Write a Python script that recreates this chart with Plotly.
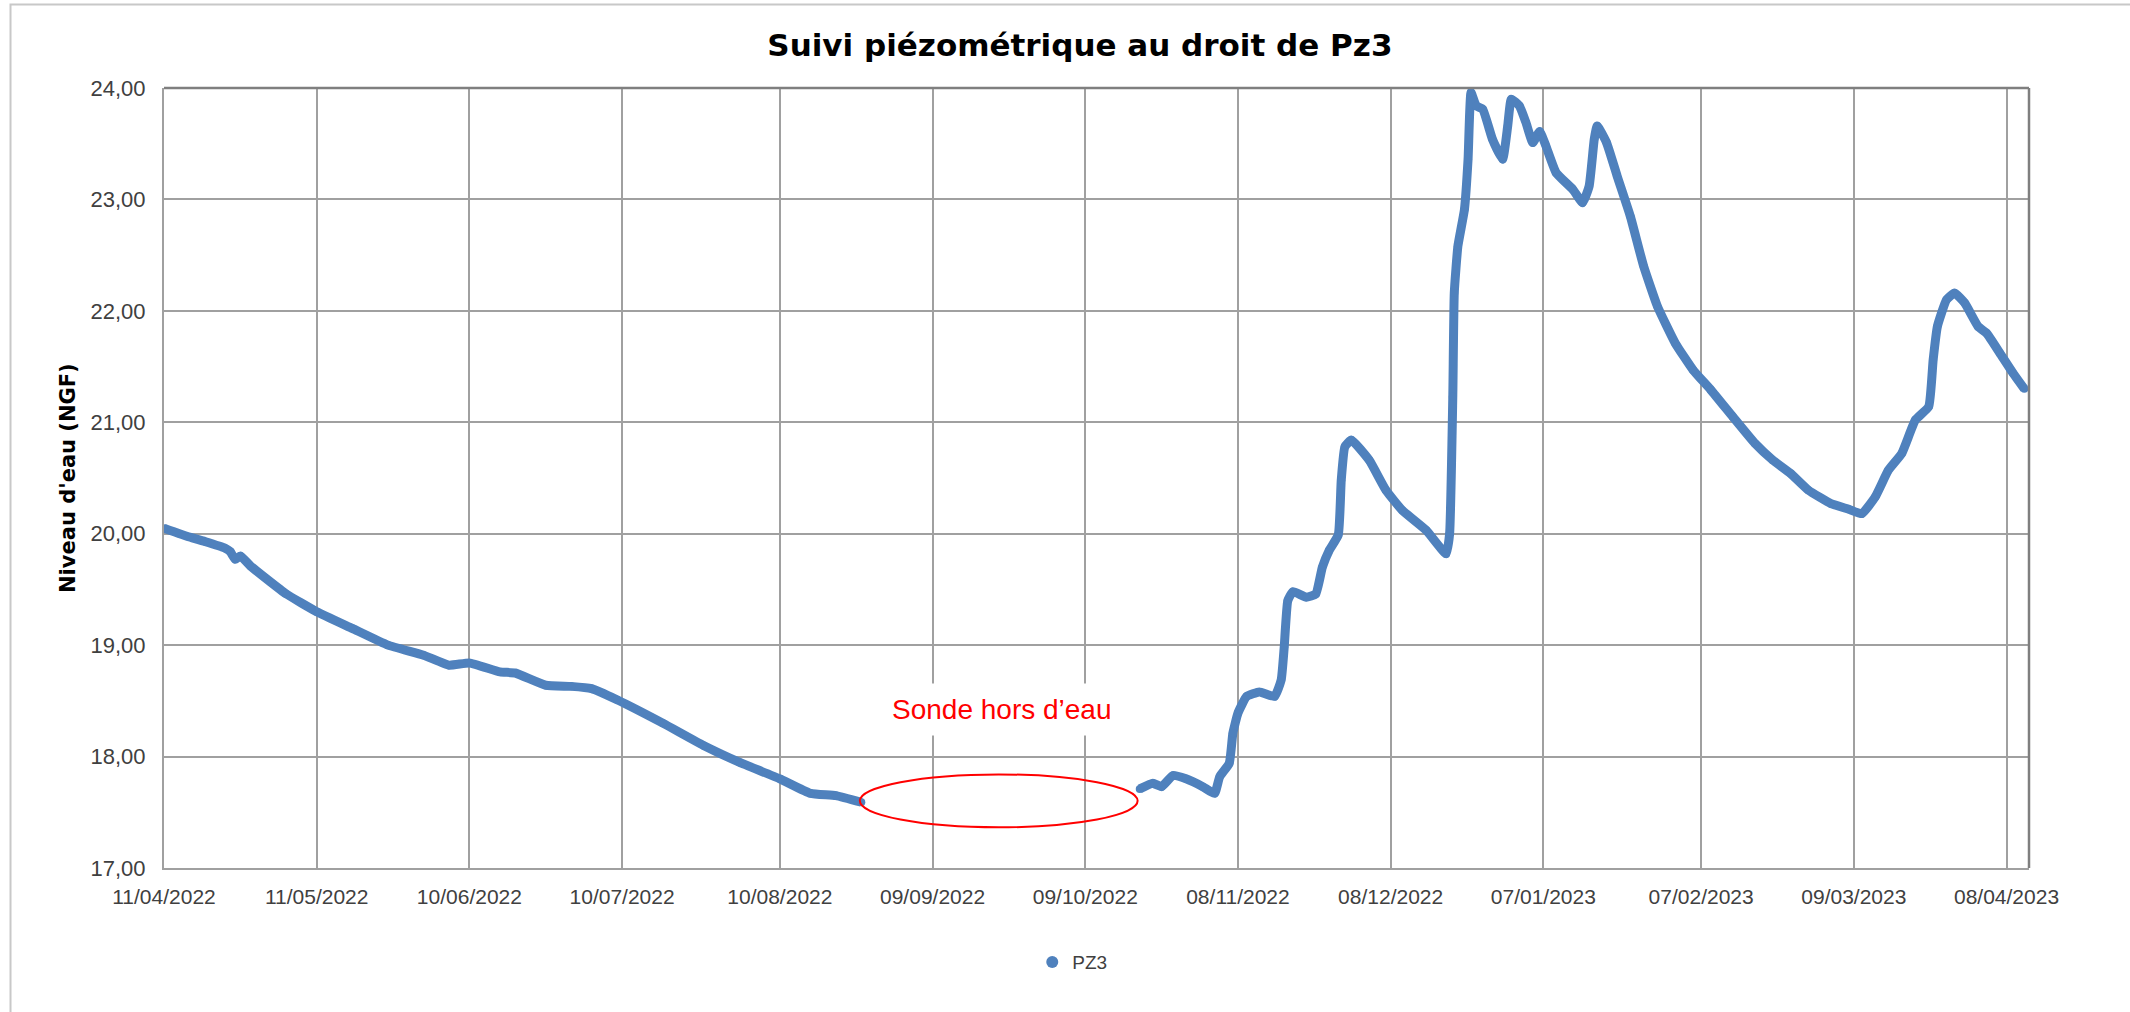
import plotly.graph_objects as go

# ---------------- data ----------------
dates_before_gap = [
    "2022-04-11", "2022-04-16", "2022-04-19", "2022-04-23", "2022-04-24",
    "2022-04-25", "2022-04-26", "2022-04-28", "2022-05-05", "2022-05-11",
    "2022-05-18", "2022-05-25", "2022-06-01", "2022-06-06", "2022-06-10",
    "2022-06-16", "2022-06-19", "2022-06-25", "2022-06-30", "2022-07-04",
    "2022-07-09", "2022-07-18", "2022-07-26", "2022-08-02", "2022-08-10",
    "2022-08-16", "2022-08-21", "2022-08-26",
]
levels_before_gap = [
    20.05, 19.97, 19.93, 19.87, 19.84,
    19.77, 19.80, 19.71, 19.46, 19.30,
    19.15, 19.00, 18.91, 18.82, 18.84,
    18.76, 18.75, 18.64, 18.63, 18.61,
    18.51, 18.30, 18.10, 17.95, 17.80,
    17.67, 17.65, 17.59,
]

dates_after_gap = [
    "2022-10-19 17:00", "2022-10-22 07:00", "2022-10-24 00:00", "2022-10-26 05:00",
    "2022-10-28 19:00", "2022-11-01 02:00", "2022-11-03 10:00", "2022-11-04 10:00",
    "2022-11-06 07:00", "2022-11-07 00:00", "2022-11-08 00:00", "2022-11-09 17:00",
    "2022-11-12 05:00", "2022-11-15 05:00", "2022-11-16 12:00", "2022-11-17 02:00",
    "2022-11-17 19:00", "2022-11-18 19:00", "2022-11-21 10:00", "2022-11-23 07:00",
    "2022-11-24 14:00", "2022-11-25 22:00", "2022-11-27 17:00", "2022-11-28 07:00",
    "2022-11-29 00:00", "2022-11-30 07:00", "2022-12-03 19:00", "2022-12-07 02:00",
    "2022-12-10 07:00", "2022-12-15 00:00", "2022-12-18 22:00", "2022-12-19 14:00",
    "2022-12-20 05:00", "2022-12-20 12:00", "2022-12-21 05:00", "2022-12-22 12:00",
    "2022-12-23 05:00", "2022-12-23 19:00", "2022-12-24 19:00", "2022-12-26 02:00",
    "2022-12-28 00:00", "2022-12-30 00:00", "2022-12-31 00:00", "2022-12-31 17:00",
    "2023-01-02 07:00", "2023-01-03 14:00", "2023-01-04 22:00", "2023-01-06 07:00",
    "2023-01-07 12:00", "2023-01-09 12:00", "2023-01-12 19:00", "2023-01-14 17:00",
    "2023-01-16 00:00", "2023-01-17 00:00", "2023-01-17 14:00", "2023-01-19 10:00",
    "2023-01-21 12:00", "2023-01-24 02:00", "2023-01-26 17:00", "2023-01-29 10:00",
    "2023-02-01 22:00", "2023-02-05 10:00", "2023-02-08 22:00", "2023-02-13 05:00",
    "2023-02-17 14:00", "2023-02-21 02:00", "2023-02-24 14:00", "2023-02-28 02:00",
    "2023-03-04 12:00", "2023-03-08 00:00", "2023-03-10 14:00", "2023-03-13 05:00",
    "2023-03-15 19:00", "2023-03-18 10:00", "2023-03-21 02:00", "2023-03-23 17:00",
    "2023-03-24 14:00", "2023-03-25 10:00", "2023-03-27 05:00", "2023-03-28 19:00",
    "2023-03-30 19:00", "2023-04-02 10:00", "2023-04-04 02:00", "2023-04-06 17:00",
    "2023-04-09 07:00", "2023-04-11 12:00",
]
levels_after_gap = [
    17.71, 17.76, 17.73, 17.83,
    17.80, 17.73, 17.67, 17.82,
    17.94, 18.21, 18.39, 18.54,
    18.58, 18.54, 18.69, 18.98,
    19.40, 19.48, 19.43, 19.46,
    19.70, 19.85, 19.99, 20.48,
    20.78, 20.84, 20.66, 20.39,
    20.21, 20.03, 19.82, 20.00,
    21.23, 22.16, 22.58, 22.91,
    23.36, 23.96, 23.84, 23.81,
    23.54, 23.36, 23.66, 23.90,
    23.84, 23.69, 23.51, 23.61,
    23.48, 23.24, 23.09, 22.97,
    23.12, 23.54, 23.66, 23.51,
    23.21, 22.85, 22.40, 22.04,
    21.71, 21.47, 21.29, 21.05,
    20.81, 20.66, 20.54, 20.39,
    20.27, 20.22, 20.18, 20.33,
    20.57, 20.72, 21.02, 21.14,
    21.56, 21.86, 22.10, 22.16,
    22.07, 21.86, 21.80, 21.62,
    21.44, 21.30,
]

tick_dates = [
    "2022-04-11", "2022-05-11", "2022-06-10", "2022-07-10", "2022-08-10",
    "2022-09-09", "2022-10-09", "2022-11-08", "2022-12-08", "2023-01-07",
    "2023-02-07", "2023-03-09", "2023-04-08",
]
tick_labels = [
    "11/04/2022", "11/05/2022", "10/06/2022", "10/07/2022", "10/08/2022",
    "09/09/2022", "09/10/2022", "08/11/2022", "08/12/2022", "07/01/2023",
    "07/02/2023", "09/03/2023", "08/04/2023",
]
y_ticks = [17, 18, 19, 20, 21, 22, 23, 24]

series_name = "PZ3"
title_text = "Suivi piézométrique au droit de Pz3"
y_title = "Niveau d'eau (NGF)"
note_text = "Sonde hors d’eau"

# ---------------- figure ----------------
BLUE = "#4F81BD"
FONT = "Liberation Sans"
BOLD_FONT = "DejaVu Sans"

x_all = dates_before_gap + [None] + dates_after_gap
y_all = levels_before_gap + [None] + levels_after_gap

fig = go.Figure()
fig.add_trace(go.Scatter(
    x=x_all, y=y_all, mode="lines", connectgaps=False,
    line=dict(color=BLUE, width=9, shape="spline", smoothing=0.4),
    showlegend=False, hoverinfo="skip",
))
fig.add_trace(go.Scatter(
    x=x_all, y=y_all, mode="markers", name=series_name,
    marker=dict(color=BLUE, size=8),
))

grid = "#A0A0A0"
fig.update_xaxes(
    type="date",
    range=["2022-04-11", "2023-04-12 10:00"],
    tickvals=tick_dates, ticktext=tick_labels,
    showgrid=True, gridcolor=grid, gridwidth=1.5,
    showline=True, linecolor=grid, linewidth=2,
    ticks="", ticklabelstandoff=9,
    tickfont=dict(family=FONT, size=21, color="#404040"),
    zeroline=False,
)
fig.update_yaxes(
    range=[17, 24], tickvals=y_ticks, tickformat=".2f",
    showgrid=True, gridcolor=grid, gridwidth=1.5,
    showline=True, linecolor=grid, linewidth=2,
    ticks="", ticklabelstandoff=12,
    tickfont=dict(family=FONT, size=22, color="#404040"),
    zeroline=False,
)

shapes = [
    # outer chart border
    dict(type="rect", xref="paper", yref="paper",
         x0=-0.0823, x1=1.07, y0=-0.20, y1=1.107,
         line=dict(color="#C8C8C8", width=2), layer="below"),
    # top and right plot-area border
    dict(type="line", xref="paper", yref="paper", x0=0, x1=1, y0=1, y1=1,
         line=dict(color="#7F7F7F", width=2.5)),
    dict(type="line", xref="paper", yref="paper", x0=1, x1=1, y0=0, y1=1,
         line=dict(color="#7F7F7F", width=2.5)),
    # red ellipse marking the gap
    dict(type="circle", xref="x", yref="y",
         x0="2022-08-25 17:00", x1="2022-10-19 07:00", y0=17.365, y1=17.84,
         line=dict(color="#FF0000", width=2)),
]

annotations = [
    dict(text=y_title, xref="paper", yref="paper", x=-0.0515, y=0.5,
         textangle=-90, showarrow=False, xanchor="center", yanchor="middle",
         font=dict(family=BOLD_FONT, size=21, color="#000000", weight="bold")),
    dict(text=note_text, xref="x", yref="y", x="2022-09-22 14:00", y=18.42,
         showarrow=False, xanchor="center", yanchor="middle",
         bgcolor="#FFFFFF", borderpad=10,
         font=dict(family=FONT, size=28, color="#FF0000")),
]

fig.update_layout(
    width=2130, height=1012,
    margin=dict(l=164, r=101, t=88, b=144),
    paper_bgcolor="#FFFFFF", plot_bgcolor="#FFFFFF",
    separators=", ",
    title=dict(text=title_text, x=0.507, xref="container", xanchor="center",
               y=1 - 45 / 1012, yref="container", yanchor="middle",
               font=dict(family=BOLD_FONT, size=31, color="#000000", weight="bold")),
    legend=dict(orientation="h", x=0.487, xanchor="center", y=-0.1206,
                yanchor="middle", font=dict(family=FONT, size=19, color="#404040"),
                itemsizing="constant"),
    shapes=shapes, annotations=annotations,
)

fig.write_html(
    "out.html",
    config={"displayModeBar": False},
    post_script="document.body.style.margin='0';document.body.style.overflow='hidden';",
)
